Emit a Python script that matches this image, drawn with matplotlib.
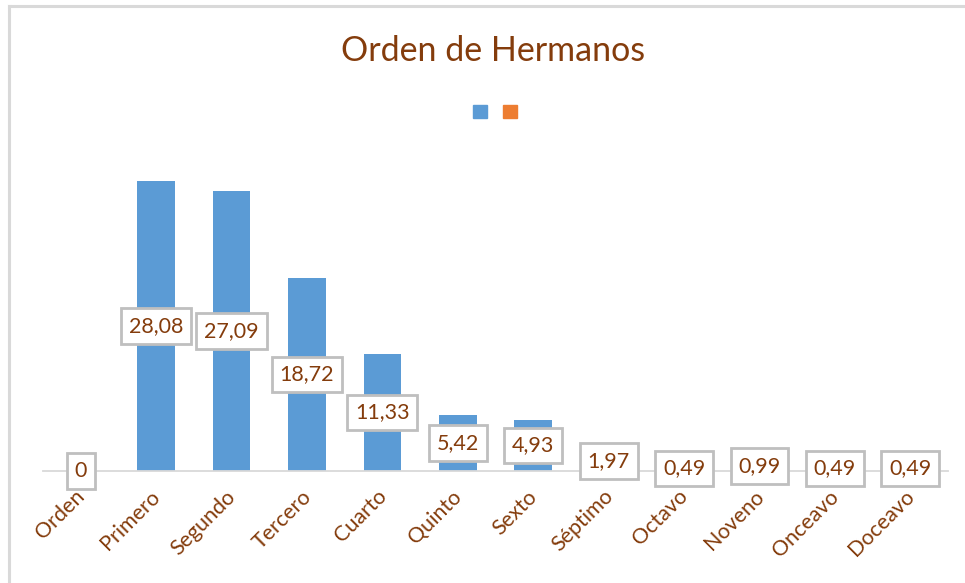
import matplotlib
matplotlib.use("Agg")
import matplotlib.pyplot as plt
import matplotlib.transforms as mtrans
from matplotlib.patches import Patch
from matplotlib.lines import Line2D
import numpy as np

plt.rcParams['font.family'] = ['Lato', 'DejaVu Sans']

categorias = ['Orden', 'Primero', 'Segundo', 'Tercero', 'Cuarto', 'Quinto',
              'Sexto', 'Séptimo', 'Octavo', 'Noveno', 'Onceavo', 'Doceavo']
valores = [0, 28.08, 27.09, 18.72, 11.33, 5.42, 4.93, 1.97, 0.49, 0.99, 0.49, 0.49]

AZUL = '#5B9BD5'
NARANJA = '#ED7D31'
MARRON = '#843C0C'
GRIS = '#D9D9D9'


def etiqueta(v):
    if v == 0:
        return '0'
    return f"{v:.2f}".replace('.', ',')


fig = plt.figure(figsize=(9.65, 5.83), dpi=100)
ax = fig.add_axes([43 / 965, 112 / 583, 905 / 965, 310 / 583])

x = np.arange(len(categorias))
ax.bar(x, valores, width=0.5, color=AZUL, zorder=2)

for xi, v in zip(x, valores):
    ax.text(xi, v / 2, etiqueta(v), ha='center', va='center', fontsize=15.5,
            color=MARRON, zorder=3,
            bbox=dict(boxstyle='square,pad=0.36', fc='white', ec='#BFBFBF', lw=2))

ax.set_xlim(-0.5, len(categorias) - 0.5)
ax.set_ylim(0, 30)
ax.set_xticks(x)
ax.set_xticklabels(categorias, rotation=45, ha='right', va='top',
                   rotation_mode='anchor', fontsize=15.5, color=MARRON)
ax.tick_params(axis='x', length=0, pad=11)
desplaza = mtrans.ScaledTranslation(-6 / 100, 0, fig.dpi_scale_trans)
for lbl in ax.get_xticklabels():
    lbl.set_transform(lbl.get_transform() + desplaza)
ax.set_yticks([])
for s in ['top', 'right', 'left']:
    ax.spines[s].set_visible(False)
ax.spines['bottom'].set_color(GRIS)
ax.spines['bottom'].set_linewidth(1.3)

fig.text(493 / 965, 1 - 51 / 583, 'Orden de Hermanos', ha='center', va='center',
         fontsize=24.5, color=MARRON)

fig.legend(handles=[Patch(color=AZUL), Patch(color=NARANJA)], labels=['', ''],
           ncol=2, frameon=False, loc='center', bbox_to_anchor=(495 / 965, 1 - 113 / 583),
           handlelength=0.7, handleheight=0.7, handletextpad=0.0, columnspacing=0.85,
           fontsize=14)

# borde del gráfico
fig.add_artist(Line2D([9 / 965, 9 / 965], [0, 1 - 6 / 583], color=GRIS, lw=2.2,
                      transform=fig.transFigure))
fig.add_artist(Line2D([9 / 965, 1], [1 - 6 / 583, 1 - 6 / 583], color=GRIS, lw=2.2,
                      transform=fig.transFigure))

fig.savefig('out.png', dpi=100, facecolor='white')
